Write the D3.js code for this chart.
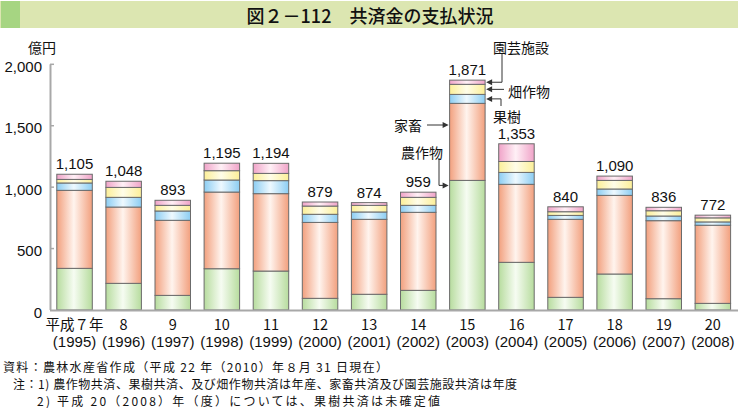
<!DOCTYPE html>
<html><head><meta charset="utf-8">
<script src="https://cdn.jsdelivr.net/npm/d3@7"></script>
<style>
html,body{margin:0;padding:0;background:#fff;}
svg{display:block;}
</style></head>
<body>
<svg id="chart" width="738" height="408"></svg>
<script>
// ---- data ----
const yearLabels = ["平成７年","8","9","10","11","12","13","14","15","16","17","18","19","20"];
const westYears = ["(1995)","(1996)","(1997)","(1998)","(1999)","(2000)","(2001)","(2002)","(2003)","(2004)","(2005)","(2006)","(2007)","(2008)"];
const categories = ["農作物","家畜","果樹","畑作物","園芸施設"];
const crops      = [339,217,119,336,317, 95,128,160,1055,388,103,293, 92, 54];
const livestock  = [635,621,611,624,630,618,610,635, 627,635,635,640,635,636];
const fruit      = [ 60, 79, 76, 98,106, 66, 60, 57,  73, 97, 32, 52, 38, 27];
const field      = [ 29, 81, 46, 76, 59, 67, 54, 65,  82, 89, 30, 70, 43, 33];
const greenhouse = [ 42, 50, 41, 61, 82, 33, 22, 42,  34,144, 40, 35, 28, 22];
const totals     = [1105,1048,893,1195,1194,879,874,959,1871,1353,840,1090,836,772];
const yTicks = [0,500,1000,1500,2000];
const colors = ["#b7dc9e","#f2a07e","#8ccdf2","#fcef98","#f0a3c8"];
const lights = ["#f6fcf2","#fff4ee","#eef9ff","#fffde9","#fff0f6"];

const series = [crops, livestock, fruit, field, greenhouse];
const rows = yearLabels.map((y,i)=>{
  const o = {year:y};
  categories.forEach((c,k)=>o[c]=series[k][i]);
  return o;
});

const svg = d3.select("#chart");
const JP = "'Noto Sans CJK JP','Noto Sans',sans-serif";
const NUM = "'Liberation Sans',Arial,sans-serif";

// title band
svg.append("rect").attr("x",0).attr("y",1).attr("width",738).attr("height",27).attr("fill","#dce6b1");
svg.append("rect").attr("x",1).attr("y",1).attr("width",19).attr("height",27).attr("fill","#a6d582");
svg.append("text").attr("x",370).attr("y",15).attr("text-anchor","middle")
  .attr("dominant-baseline","central").attr("font-family",JP).attr("font-size",18)
  .attr("font-weight",500).attr("fill","#111").text("図２－112　共済金の支払状況");

// gradients
const defs = svg.append("defs");
categories.forEach((c,k)=>{
  const g = defs.append("linearGradient").attr("id","g"+k).attr("x1","0").attr("x2","1").attr("y1","0").attr("y2","0");
  g.append("stop").attr("offset","0%").attr("stop-color",colors[k]);
  g.append("stop").attr("offset","48%").attr("stop-color",lights[k]);
  g.append("stop").attr("offset","100%").attr("stop-color",colors[k]);
});

// scales
const x = d3.scaleBand().domain(yearLabels).range([50,737.4]).paddingInner(0.277).paddingOuter(0.1385);
const y = d3.scaleLinear().domain([0,2000]).range([310,64.3]);

const stack = d3.stack().keys(categories)(rows);

// bars
const layer = svg.append("g").selectAll("g").data(stack).join("g")
  .attr("fill",(d,k)=>`url(#g${k})`);
layer.selectAll("rect").data(d=>d).join("rect")
  .attr("x",d=>x(d.data.year)).attr("width",x.bandwidth())
  .attr("y",d=>y(d[1])).attr("height",d=>y(d[0])-y(d[1]))
  .attr("stroke","#6b6b6b").attr("stroke-width",1);

// axes
svg.append("line").attr("x1",50.5).attr("x2",50.5).attr("y1",y(2000)).attr("y2",y(0))
  .attr("stroke","#a8a8a8").attr("stroke-width",2);
svg.append("line").attr("x1",50).attr("x2",738).attr("y1",y(0)+0.5).attr("y2",y(0)+0.5)
  .attr("stroke","#a8a8a8").attr("stroke-width",2);
const yax = svg.append("g");
yax.selectAll("line").data(yTicks.filter(t=>t>0)).join("line")
  .attr("x1",50).attr("x2",54).attr("y1",d=>y(d)).attr("y2",d=>y(d))
  .attr("stroke","#a8a8a8").attr("stroke-width",1.5);
yax.selectAll("text").data(yTicks).join("text")
  .attr("x",42).attr("y",d=>y(d)+2).attr("text-anchor","end").attr("dominant-baseline","central")
  .attr("font-family",NUM).attr("font-size",15).attr("fill","#111")
  .text(d=>d3.format(",")(d));
svg.append("text").attr("x",42).attr("y",47).attr("text-anchor","middle").attr("dominant-baseline","central")
  .attr("font-family",JP).attr("font-size",14).attr("fill","#111").text("億円");

// x labels
svg.append("g").selectAll("text").data(yearLabels).join("text")
  .attr("x",d=>x(d)+x.bandwidth()/2).attr("y",323).attr("text-anchor","middle").attr("dominant-baseline","central")
  .attr("font-family",JP).attr("font-size",14.5).attr("fill","#111").text(d=>d);
svg.append("g").selectAll("text").data(westYears).join("text")
  .attr("x",(d,i)=>x(yearLabels[i])+x.bandwidth()/2).attr("y",341).attr("text-anchor","middle").attr("dominant-baseline","central")
  .attr("font-family",NUM).attr("font-size",15).attr("fill","#111").text(d=>d);

// totals
svg.append("g").selectAll("text").data(totals).join("text")
  .attr("x",(d,i)=>x(yearLabels[i])+x.bandwidth()/2).attr("y",d=>y(d)-5).attr("text-anchor","middle")
  .attr("font-family",NUM).attr("font-size",15).attr("fill","#111").text(d=>d3.format(",")(d));

// annotations on 2003 bar
const ai = 8, ay = yearLabels[ai];
const bl = x(ay), br = x(ay)+x.bandwidth();
const mid = k => (y(stack[k][ai][0])+y(stack[k][ai][1]))/2;
const ann = svg.append("g").attr("font-family",JP).attr("font-size",14).attr("fill","#111");
const stroke = "#333";
function arrowL(xt,yt){ ann.append("path").attr("d",`M${xt},${yt}l6,-3v6z`).attr("fill",stroke); }
function arrowR(xt,yt){ ann.append("path").attr("d",`M${xt},${yt}l-6,-3v6z`).attr("fill",stroke); }
function line(pts){ ann.append("path").attr("d",d3.line()(pts)).attr("fill","none").attr("stroke",stroke).attr("stroke-width",1); }
// 園芸施設
ann.append("text").attr("x",493).attr("y",47).attr("dominant-baseline","central").text(categories[4]);
line([[502,54],[502,mid(4)],[br+4,mid(4)]]); arrowL(br+1,mid(4));
// 畑作物
ann.append("text").attr("x",508).attr("y",91).attr("dominant-baseline","central").text(categories[3]);
line([[504,mid(3)],[br+4,mid(3)]]); arrowL(br+1,mid(3));
// 果樹
ann.append("text").attr("x",493).attr("y",116).attr("dominant-baseline","central").text(categories[2]);
line([[501,106],[501,mid(2)],[br+4,mid(2)]]); arrowL(br+1,mid(2));
// 家畜
ann.append("text").attr("x",422).attr("y",125).attr("text-anchor","end").attr("dominant-baseline","central").text(categories[1]);
line([[427,125],[bl-4,125]]); arrowR(bl-1,125);
// 農作物
ann.append("text").attr("x",401).attr("y",152).attr("dominant-baseline","central").text(categories[0]);
const gy = y(stack[0][ai][1])+5;
line([[439,158],[439,gy],[bl-4,gy]]); arrowR(bl-1,gy);

// footnotes
const fn = svg.append("g").attr("font-family",JP).attr("font-size",12).attr("fill","#111");
fn.append("text").attr("x",3).attr("y",366).attr("dominant-baseline","central")
  .attr("textLength",385).attr("lengthAdjust","spacing")
  .text("資料：農林水産省作成（平成 22 年（2010）年８月 31 日現在）");
fn.append("text").attr("x",13).attr("y",383).attr("dominant-baseline","central")
  .attr("textLength",504).attr("lengthAdjust","spacing")
  .text("注：1) 農作物共済、果樹共済、及び畑作物共済は年産、家畜共済及び園芸施設共済は年度");
fn.append("text").attr("x",37).attr("y",400).attr("dominant-baseline","central")
  .attr("textLength",403).attr("lengthAdjust","spacing")
  .text("2) 平成 20（2008）年（度）については、果樹共済は未確定値");
</script>
</body></html>
